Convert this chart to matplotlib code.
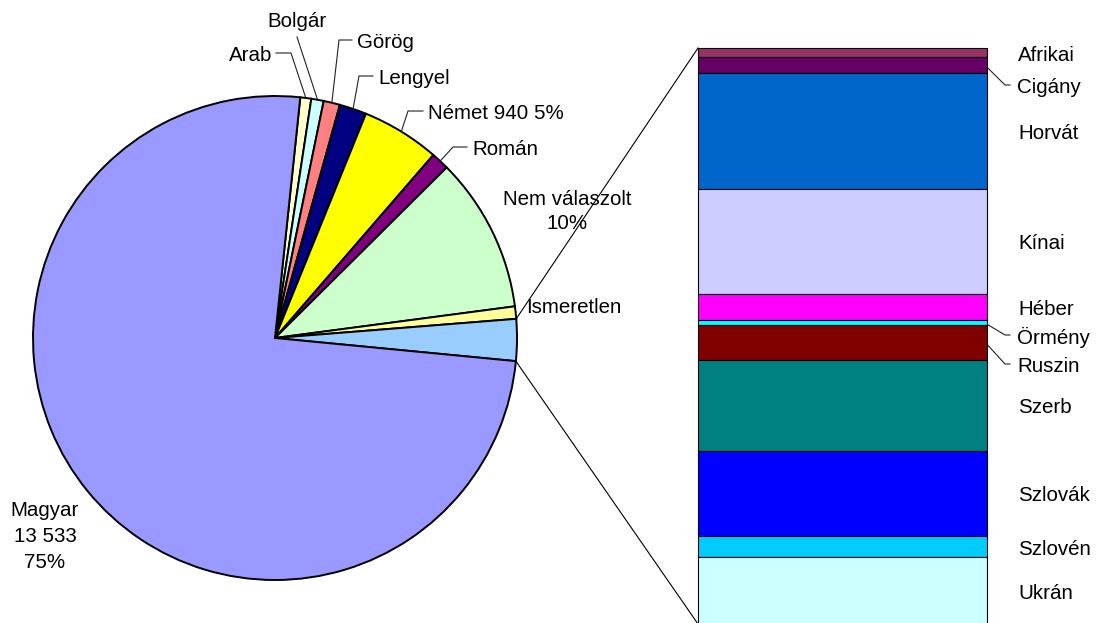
import numpy as np
import matplotlib
matplotlib.use("Agg")
from matplotlib import pyplot as plt

plt.rcParams['font.family'] = ['Liberation Sans', 'DejaVu Sans']

# secondary bar (breakdown of the small "other" slice), top to bottom
bar_labels = ["Afrikai", "Cigány", "Horvát", "Kínai", "Héber", "Örmény",
              "Ruszin", "Szerb", "Szlovák", "Szlovén", "Ukrán"]
bar_values = [8, 14, 101, 91, 23, 4, 31, 79, 74, 19, 58]
bar_colors = ["#993366", "#660066", "#0066CC", "#CCCCFF", "#FF00FF", "#00FFFF",
              "#800000", "#008080", "#0000FF", "#00CCFF", "#CCFFFF"]

# main pie, clockwise starting right of the Magyar slice
pie_labels = ["Arab", "Bolgár", "Görög", "Lengyel", "Német", "Román",
              "Nem válaszolt", "Ismeretlen", "Egyéb", "Magyar"]
pie_values = [132, 149, 197, 326, 940, 217, 1865, 149, sum(bar_values), 13533]
pie_colors = ["#FFFFCC", "#CCFFFF", "#FF8080", "#000080", "#FFFF00", "#800080",
              "#CCFFCC", "#FFFF99", "#99CCFF", "#9999FF"]

H = 623
FS = 14.8
total = sum(pie_values)


def up(y):
    # image row -> data y
    return H - y


def tup(y):
    # text rows sit a little lower than matplotlib's centre
    return H - y - 2.5


fig = plt.figure(figsize=(10.99, 6.23), dpi=100)
ax = fig.add_axes([0, 0, 1, 1])
cx, cy, r = 275, up(338), 242
wedges, _ = ax.pie(pie_values, colors=pie_colors, startangle=84, counterclock=False,
                   center=(cx, cy), radius=r, frame=True,
                   wedgeprops=dict(edgecolor='black', linewidth=1.4))
ax.set_xlim(0, 1099)
ax.set_ylim(0, H)
ax.axis('off')


def arc_point(theta, rad=r):
    t = np.deg2rad(theta)
    return cx + rad * np.cos(t), cy + rad * np.sin(t)


# stacked bar
bar_left, bar_right = 698, 987
bar_top, bar_bottom = up(48), up(624)
scale = (bar_top - bar_bottom) / sum(bar_values)
heights = np.array(bar_values) * scale
bottoms = bar_top - np.cumsum(heights)
ax.bar((bar_left + bar_right) / 2, heights, bottom=bottoms, width=bar_right - bar_left,
       color=bar_colors, edgecolor='black', linewidth=0.8, zorder=3)

# connector lines from the "other" slice to the bar corners
ow = wedges[pie_labels.index("Egyéb")]
x1, y1 = arc_point(ow.theta2)
x2, y2 = arc_point(ow.theta1)
ax.plot([x1, bar_left], [y1, bar_top], color='black', lw=0.8)
ax.plot([x2, bar_left], [y2, bar_bottom], color='black', lw=0.8)

# bar labels
leader_bar = {"Cigány": 85, "Örmény": 335, "Ruszin": 364}
centers = bottoms + heights / 2
for lab, yc in zip(bar_labels, centers):
    if lab in leader_bar:
        ty = up(leader_bar[lab])
        ax.plot([bar_right, 1005, 1010], [yc - 2, ty, ty], color='#222222', lw=0.8)
        ax.text(1017, ty - 2.5, lab, fontsize=FS, ha='left', va='center')
    else:
        ax.text(1018, yc - 2.5, lab, fontsize=FS, ha='left', va='center')

# pie labels with leaders
pie_text = {
    "Arab": (272, 53, "right", [(276, 53), (291, 53)]),
    "Bolgár": (297, 19, "center", [(297, 37)]),
    "Görög": (357, 40, "left", [(352, 40), (339, 40)]),
    "Lengyel": (378, 76, "left", [(373, 76), (359, 76)]),
    "Német": (428, 111, "left", [(423, 111), (408, 111)]),
    "Román": (472, 147, "left", [(467, 147), (453, 147)]),
}
for lab, (tx, ty, ha, pts) in pie_text.items():
    i = pie_labels.index(lab)
    w = wedges[i]
    mx, my = arc_point((w.theta1 + w.theta2) / 2)
    xs = [p[0] for p in pts] + [mx]
    ys = [up(p[1]) for p in pts] + [my]
    ax.plot(xs, ys, color='#222222', lw=0.8)
    txt = lab
    if lab == "Német":
        txt = f"{lab} {pie_values[i]} {100 * pie_values[i] / total:.0f}%"
    ax.text(tx, tup(ty), txt, fontsize=FS, ha=ha, va='center')

i = pie_labels.index("Nem válaszolt")
ax.text(567, tup(209), f"Nem válaszolt\n{100 * pie_values[i] / total:.0f}%",
        fontsize=FS, ha='center', va='center', linespacing=1.35)
ax.text(526, tup(305), "Ismeretlen", fontsize=FS, ha='left', va='center')
i = pie_labels.index("Magyar")
mag = f"{pie_values[i]:,}".replace(",", " ")
ax.text(45, tup(534), f"Magyar\n{mag}\n{100 * pie_values[i] / total:.0f}%",
        fontsize=FS, ha='center', va='center', linespacing=1.45)

plt.savefig("out.png", dpi=100)
